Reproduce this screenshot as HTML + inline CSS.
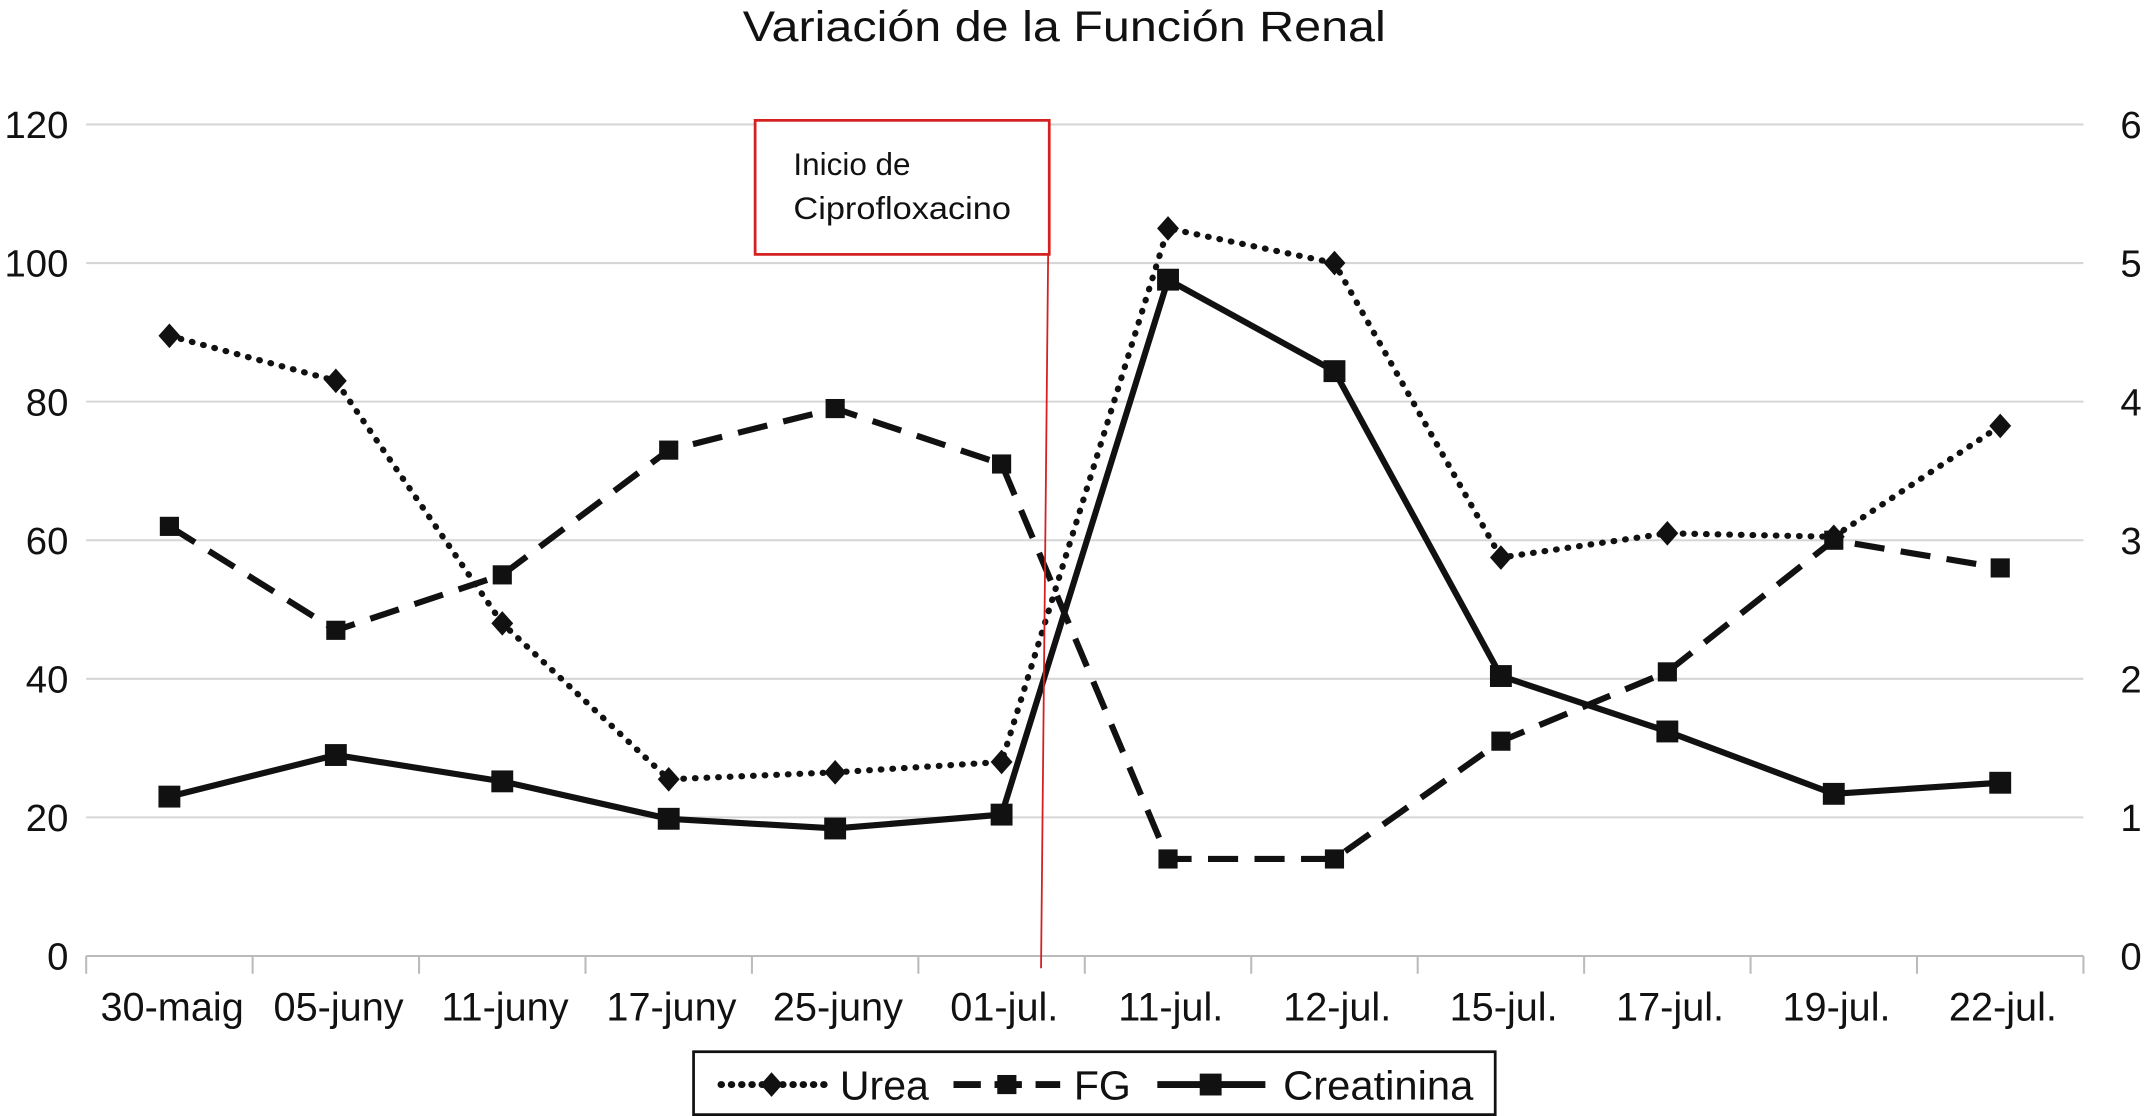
<!DOCTYPE html>
<html><head><meta charset="utf-8"><style>
html,body{margin:0;padding:0;background:#fff}
svg{display:block}
text{font-family:"Liberation Sans",sans-serif;fill:#111}
</style></head><body>
<svg id="chart" width="2145" height="1116" viewBox="0 0 1568 816" preserveAspectRatio="none" xmlns="http://www.w3.org/2000/svg">
<text x="778" y="30" font-size="31" text-anchor="middle" textLength="470" lengthAdjust="spacingAndGlyphs">Variación de la Función Renal</text>
<g id="grid"></g>
<g id="axes"></g>
<g id="series"></g>
<line x1="767" y1="105" x2="761" y2="708" stroke="#d42020" stroke-width="1.3"/>
<rect x="552" y="88" width="215" height="98" fill="#fff" stroke="#d42020" stroke-width="2"/>
<text x="580" y="128" font-size="23">Inicio de</text>
<text x="580" y="160" font-size="23" textLength="159" lengthAdjust="spacingAndGlyphs">Ciprofloxacino</text>
<g>
<rect x="507" y="769" width="586" height="46" fill="#fff" stroke="#111" stroke-width="2"/>
<g>
<line x1="527" y1="793" x2="603" y2="793" stroke="#111" stroke-width="5" stroke-dasharray="0.5,7" stroke-linecap="round"/>
<path d="M564 784 L572 793 L564 802 L556 793 Z" fill="#111"/>
<text x="614" y="804" font-size="30">Urea</text></g>
<g>
<line x1="697" y1="793" x2="775" y2="793" stroke="#111" stroke-width="5" stroke-dasharray="20,10"/>
<rect x="729" y="786" width="14" height="14" fill="#111"/>
<text x="785" y="804" font-size="30">FG</text></g>
<g>
<line x1="846" y1="793" x2="925" y2="793" stroke="#111" stroke-width="5"/>
<rect x="877" y="785" width="16" height="16" fill="#111"/>
<text x="938" y="804" font-size="30" textLength="139" lengthAdjust="spacingAndGlyphs">Creatinina</text></g>
</g>
</svg>
<script>
const categories=["30-maig","05-juny","11-juny","17-juny","25-juny","01-jul.","11-jul.","12-jul.","15-jul.","17-jul.","19-jul.","22-jul."];
const ureaValues=[89.5,83,48,25.5,26.5,28,105,100,57.5,61,60.5,76.5];
const fgValues=[62,47,55,73,79,71,14,14,31,41,60,56];
const creatininaValues=[1.15,1.45,1.26,0.99,0.92,1.02,4.88,4.22,2.02,1.62,1.17,1.25];
const leftTicks=[0,20,40,60,80,100,120];
const rightTicks=[0,1,2,3,4,5,6];
const NS="http://www.w3.org/2000/svg";
const X0=63,X1=1523,Y0=699,Y1=91;
const bw=(X1-X0)/categories.length;
function xPos(i){return X0+bw*(i+0.5);}
function yL(v){return Y0-(v/120)*(Y0-Y1);}
function yR(v){return Y0-(v/6)*(Y0-Y1);}
function mk(tag,attrs,parent){const e=document.createElementNS(NS,tag);for(const k in attrs)e.setAttribute(k,attrs[k]);parent.appendChild(e);return e;}
const grid=document.getElementById('grid'),axes=document.getElementById('axes'),series=document.getElementById('series');
leftTicks.forEach((t,i)=>{
 const l=mk('line',{x1:X0,x2:X1,y1:yL(t),y2:yL(t),stroke:i===0?'#bbb':'#d6d6d6','stroke-width':1.5},grid);
 
 
 const tx=mk('text',{x:50,y:yL(t)+10,'font-size':28,'text-anchor':'end'},axes);tx.textContent=t;
 
 
});
rightTicks.forEach(t=>{
 const tx=mk('text',{x:1550,y:yR(t)+10,'font-size':28},axes);tx.textContent=t;
 
 
});
for(let i=0;i<=categories.length;i++){
 const x=X0+bw*i;
 const l=mk('line',{x1:x,x2:x,y1:Y0,y2:712,stroke:'#bbb','stroke-width':1.5},axes);
 
 
}
categories.forEach((c,i)=>{
 const tx=mk('text',{x:xPos(i)+2,y:746,'font-size':29,'text-anchor':'middle'},axes);tx.textContent=c;
 
 
});
function drawLine(vals,yf,dash,cap,name){
 const pts=vals.map((v,i)=>xPos(i)+','+yf(v)).join(' ');
 const a={points:pts,fill:'none',stroke:'#111','stroke-width':4.5,'stroke-linejoin':'round'};
 if(dash)a['stroke-dasharray']=dash; if(cap)a['stroke-linecap']=cap;
 const p=mk('polyline',a,series);
 
 
}
drawLine(fgValues,yL,'22,12',null,'fg');
drawLine(ureaValues,yL,'0.5,8','round','urea');
drawLine(creatininaValues,yR,null,null,'creatinina');
ureaValues.forEach((v,i)=>{
 const x=xPos(i),y=yL(v);
 const d=mk('path',{d:`M${x} ${y-9} L${x+8} ${y} L${x} ${y+9} L${x-8} ${y} Z`,fill:'#111'},series);
 
 
});
fgValues.forEach((v,i)=>{
 const r=mk('rect',{x:xPos(i)-7,y:yL(v)-7,width:14,height:14,fill:'#111'},series);
 
 
});
creatininaValues.forEach((v,i)=>{
 const r=mk('rect',{x:xPos(i)-8,y:yR(v)-8,width:16,height:16,fill:'#111'},series);
 
 
});
</script>
</body></html>
